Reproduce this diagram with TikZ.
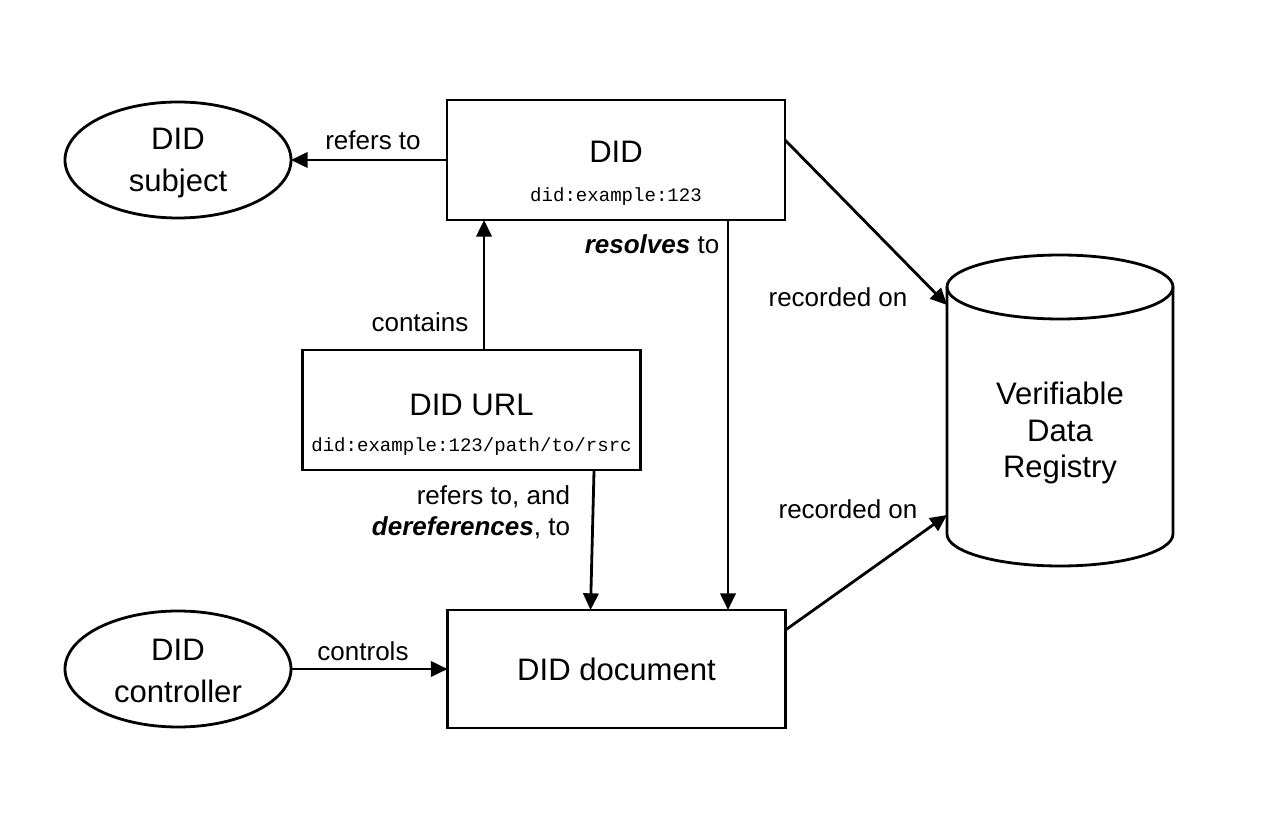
\documentclass[tikz,border=0pt]{standalone}
\usepackage{fontspec}
\setmainfont{Liberation Sans}
\setmonofont{Liberation Mono}
\usetikzlibrary{arrows.meta,shapes.geometric}
\begin{document}
\begin{tikzpicture}[x=0.75pt,y=-0.75pt,
  every node/.style={inner sep=0pt, outer sep=0pt},
  box/.style={draw, line width=2.1pt, minimum width=253.5pt, minimum height=90pt, align=center},
  oval/.style={draw, ellipse, line width=2.1pt, minimum width=169.5pt, minimum height=87pt, align=center, font=\fontsize{23.3}{27}\selectfont},
  big/.style={font=\fontsize{23.3}{27}\selectfont},
  code/.style={font=\ttfamily\fontsize{14.3}{16}\selectfont},
  lbl/.style={font=\fontsize{19.5}{23.5}\selectfont},
  arr/.style={line width=2.1pt, -{Triangle[length=12.5pt,width=11.5pt]}},
  cyl/.style={line width=2.1pt}]
\useasboundingbox (0,0) rectangle (1286,816);
% boxes
\node[box] (did) at (616,160) {};
\node[big] (didt) at (616,152) {DID};
\node[code] (didc) at (616,197) {did:example:123};
\node[box] (url) at (471.5,410) {};
\node[big] (urlt) at (471.5,405) {DID URL};
\node[code] (urlc) at (471.5,447) {did:example:123/path/to/rsrc};
\node[box, minimum height=88.5pt] (doc) at (616.5,669) {};
\node[big] (doct) at (616.5,669) {DID document};
% ovals
\node[oval] (subj) at (178,160) {};
\node[big, align=center] (subjt) at (178,163) {DID\\[4pt]subject};
\node[oval] (ctrl) at (178,669) {};
\node[big, align=center] (ctrlt) at (178,671) {DID\\[4pt]controller};
% cylinder
\node[minimum width=169.5pt, minimum height=232.5pt] (vdr) at (1060,410) {};
\draw[cyl] (947,287) -- (947,534) arc[start angle=180, end angle=0, x radius=113, y radius=32] -- (1173,287);
\draw[cyl] (1060,287) ellipse[x radius=113, y radius=32];
\node[big, align=center] (vdrt) at (1060,433) {Verifiable\\[0.5pt]Data\\[0.5pt]Registry};
% connectors
\draw[arr] (did.west) -- (subj.east);
\draw[arr] ([xshift=9.4pt]url.north) -- ([xshift=9.4pt]url.north |- did.south);
\draw[arr] ([xshift=84pt]did.south) -- ([xshift=84pt]did.south |- doc.north);
\draw[arr] ([xshift=91.9pt]url.south) -- ([xshift=-19.5pt]doc.north);
\draw[arr] (ctrl.east) -- (ctrl.east -| doc.west);
\draw[arr] ([yshift=15pt]did.east) -- ([yshift=78.75pt]vdr.west);
\draw[arr] ([yshift=29.25pt]doc.east) -- ([yshift=-78.75pt]vdr.west);
% labels
\node[lbl] (l1) at (373,140) {refers to};
\node[lbl] (l2) at (420,322) {contains};
\node[lbl] (l3) at (652,244) {\textbf{\textit{resolves}} to};
\node[lbl] (l4) at (838,297) {recorded on};
\node[lbl] (l5) at (848,509) {recorded on};
\node[lbl, align=right, anchor=east] (l6) at (570,512) {refers to, and\\\textbf{\textit{dereferences}}, to};
\node[lbl] (l7) at (363,651) {controls};
\end{tikzpicture}
\end{document}
